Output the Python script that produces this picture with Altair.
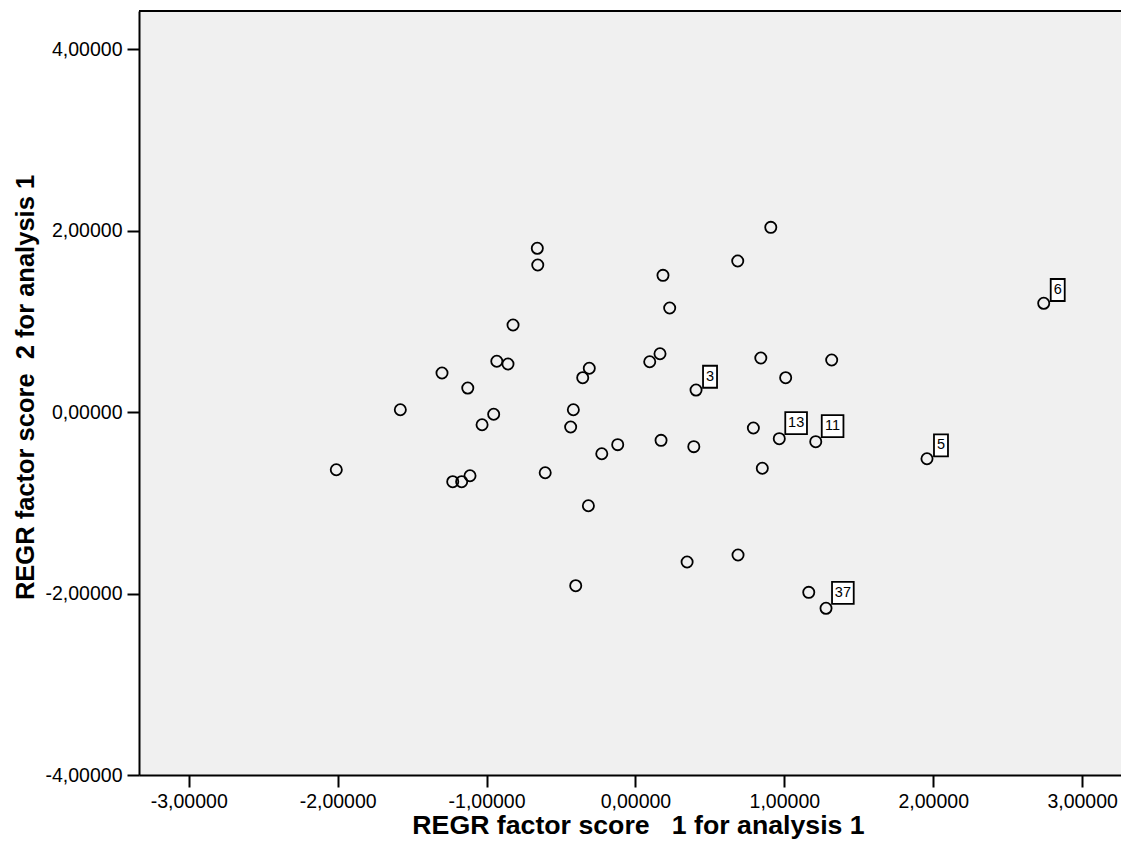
import altair as alt
import pandas as pd

# REGR factor scores
f1 = [-2.009, -1.579, -1.299, -1.126, -0.931, -0.856, -0.822, -0.952, -1.030,
      -1.227, -1.167, -1.111, -0.606, -0.659, -0.656, -0.417, -0.435, -0.310,
      -0.354, -0.316, -0.401, -0.119, -0.226, 0.096, 0.165, 0.172, 0.185,
      0.230, 0.407, 0.392, 0.347, 0.689, 0.687, 0.909, 0.842, 0.792, 0.966,
      0.852, 1.009, 1.211, 1.318, 1.164, 1.280, 1.958, 2.742]
f2 = [-0.636, 0.025, 0.430, 0.264, 0.559, 0.529, 0.959, -0.025, -0.140,
      -0.768, -0.768, -0.702, -0.669, 1.804, 1.620, 0.025, -0.165, 0.482,
      0.378, -1.033, -1.914, -0.360, -0.460, 0.554, 0.642, -0.312, 1.506,
      1.146, 0.242, -0.382, -1.653, -1.576, 1.664, 2.035, 0.595, -0.176,
      -0.294, -0.620, 0.378, -0.327, 0.573, -1.987, -2.163, -0.515, 1.198]
case_labels = [""] * len(f1)
case_labels[28] = "3"
case_labels[36] = "13"
case_labels[39] = "11"
case_labels[42] = "37"
case_labels[43] = "5"
case_labels[44] = "6"

x_ticks = [-3, -2, -1, 0, 1, 2, 3]
y_ticks = [-4, -2, 0, 2, 4]

df = pd.DataFrame({"f1": f1, "f2": f2, "lab": case_labels})

FONT = "Liberation Sans"
PLOT_W, PLOT_H = 982, 764
label_expr = "(datum.value < 0 ? '-' : '') + replace(format(abs(datum.value), '.5f'), '.', ',')"

common_axis = dict(
    labelExpr=label_expr, labelFont=FONT, labelFontSize=19.5, labelColor="black",
    tickSize=12, tickWidth=2, tickColor="black",
    domain=True, domainColor="black", domainWidth=2, grid=False,
    labelPadding=5, titleFont=FONT, titleFontWeight="bold", titleColor="black",
    titleBaseline="alphabetic", titleAlign="center",
)

xenc = alt.X("f1:Q",
             scale=alt.Scale(domain=[-3.334, 3.261], nice=False, zero=False),
             axis=alt.Axis(values=x_ticks,
                           title="REGR factor score\u00a0\u00a0 1 for analysis 1",
                           titleFontSize=26.7, titleX=499, titleY=58,
                           **common_axis))
yenc = alt.Y("f2:Q",
             scale=alt.Scale(domain=[-4, 4.419], nice=False, zero=False),
             axis=alt.Axis(values=y_ticks,
                           title="REGR factor score\u00a0 2 for analysis 1",
                           titleFontSize=25.5, titleAngle=270, titleX=-106, titleY=376,
                           **common_axis))

base = alt.Chart(df)

points = base.mark_point(shape="circle", filled=False, size=125, strokeWidth=1.8,
                         color="black", opacity=1).encode(x=xenc, y=yenc)

one = base.transform_filter("length(datum.lab) == 1")
two = base.transform_filter("length(datum.lab) == 2")

box1 = one.mark_rect(fill="white", stroke="black", strokeWidth=1.8,
                     xOffset=7, x2Offset=21, yOffset=-2.3, y2Offset=-24.3).encode(
    x=xenc, x2=alt.X2("f1"), y=yenc, y2=alt.Y2("f2"))
box2 = two.mark_rect(fill="white", stroke="black", strokeWidth=1.8,
                     xOffset=6, x2Offset=27.7, yOffset=-4.5, y2Offset=-26.5).encode(
    x=xenc, x2=alt.X2("f1"), y=yenc, y2=alt.Y2("f2"))

txt1 = one.mark_text(font=FONT, fontSize=14.5, color="black", align="center",
                     baseline="middle", dx=14, dy=-13.3).encode(x=xenc, y=yenc, text="lab:N")
txt2 = two.mark_text(font=FONT, fontSize=14.5, color="black", align="center",
                     baseline="middle", dx=16.9, dy=-15.5).encode(x=xenc, y=yenc, text="lab:N")

# top frame line of the plot area (the right side runs off the page in the reference)
top_line = base.mark_rule(color="black", strokeWidth=2).encode(
    x=alt.value(0), x2=alt.value(PLOT_W), y=alt.value(0))

chart = alt.layer(points, box1, box2, txt1, txt2, top_line).properties(
    width=PLOT_W, height=PLOT_H,
    autosize=alt.AutoSizeParams(type="none"),
    padding={"left": 131, "top": 3, "right": 0, "bottom": 64},
    background="white",
).configure_view(fill="#F0F0F0", strokeWidth=0)

chart.save("out.html", embed_options={"renderer": "svg", "actions": False})
